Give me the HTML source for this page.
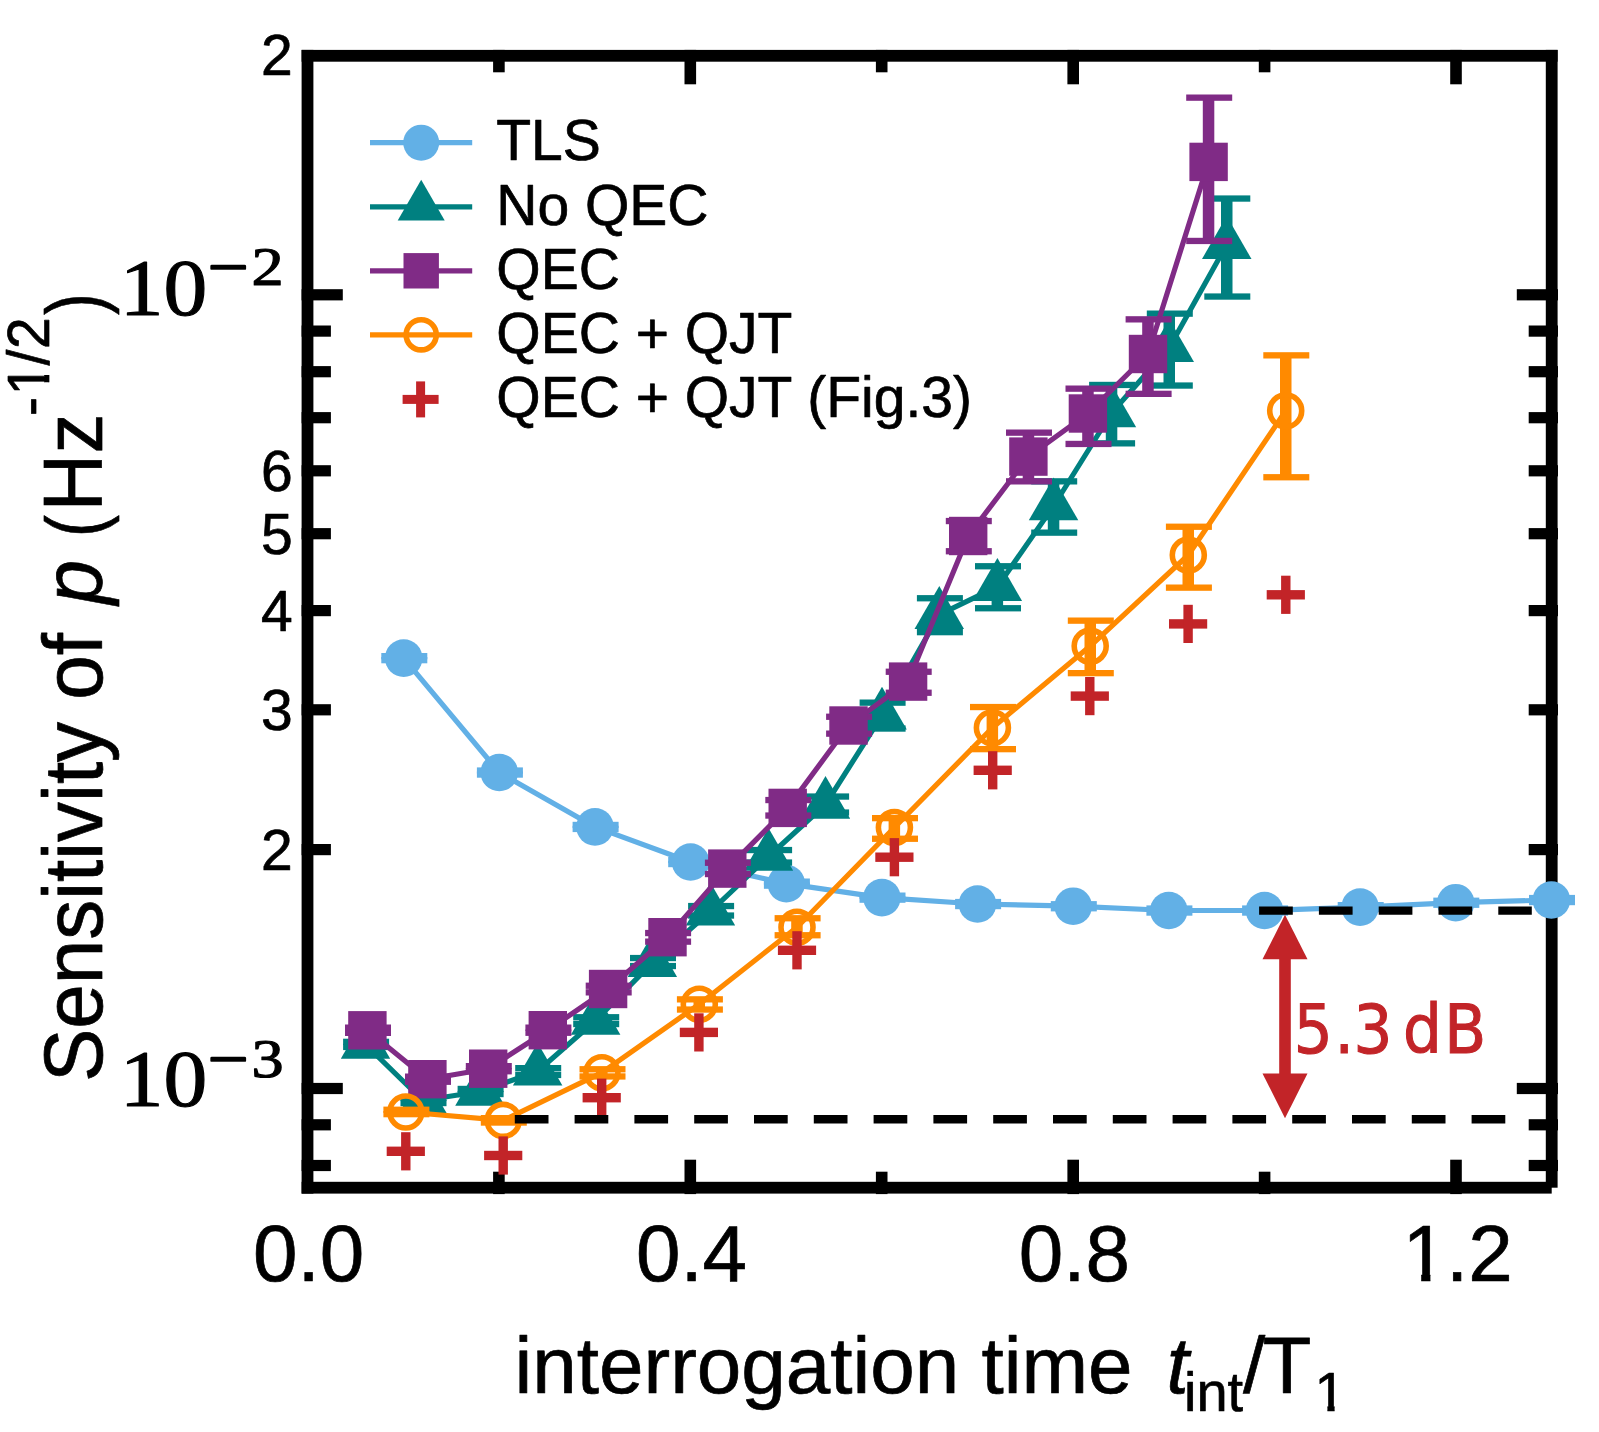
<!DOCTYPE html>
<html lang="en">
<head>
<meta charset="utf-8">
<title>Sensitivity of p versus interrogation time</title>
<style>
html,body{margin:0;padding:0;background:#ffffff;}
body{width:1599px;height:1432px;overflow:hidden;}
svg{display:block;}
</style>
</head>
<body>
<svg width="1599" height="1432" viewBox="0 0 1599 1432">
<rect x="0" y="0" width="1599" height="1432" fill="#ffffff"/>
<defs><clipPath id="clipa"><path d="M1395.8,1200 H1450.8 V1273.6 H1430.4 V1290 H1421.2 V1273.6 H1395.8 Z"/></clipPath><clipPath id="clipb"><path d="M1310,1360 H1350 V1404.7 H1334.6 V1420 H1327.4 V1404.7 H1310 Z"/></clipPath><clipPath id="clipc"><path d="M0,350 H42.8 V375 H55 V382.2 H42.8 V400 H0 Z"/></clipPath></defs>
<g id="axes" fill="#000000" stroke="none">
<rect x="301.6" y="49.9" width="1256.0" height="11.8"/>
<rect x="301.6" y="49.9" width="11.8" height="1143.7"/>
<rect x="301.6" y="1181.8" width="1250.1" height="11.8"/>
<rect x="1545.8" y="49.9" width="11.8" height="1137.8"/>
<rect x="301.6" y="289.2" width="41.2" height="11.2"/>
<rect x="1516.8" y="289.2" width="41.2" height="11.2"/>
<rect x="301.6" y="1082.9" width="41.2" height="11.2"/>
<rect x="1516.8" y="1082.9" width="41.2" height="11.2"/>
<rect x="301.6" y="844.0" width="29.3" height="11.2"/>
<rect x="1528.7" y="844.0" width="29.3" height="11.2"/>
<rect x="301.6" y="704.2" width="29.3" height="11.2"/>
<rect x="1528.7" y="704.2" width="29.3" height="11.2"/>
<rect x="301.6" y="605.0" width="29.3" height="11.2"/>
<rect x="1528.7" y="605.0" width="29.3" height="11.2"/>
<rect x="301.6" y="528.1" width="29.3" height="11.2"/>
<rect x="1528.7" y="528.1" width="29.3" height="11.2"/>
<rect x="301.6" y="465.2" width="29.3" height="11.2"/>
<rect x="1528.7" y="465.2" width="29.3" height="11.2"/>
<rect x="301.6" y="412.1" width="29.3" height="11.2"/>
<rect x="1528.7" y="412.1" width="29.3" height="11.2"/>
<rect x="301.6" y="366.1" width="29.3" height="11.2"/>
<rect x="1528.7" y="366.1" width="29.3" height="11.2"/>
<rect x="301.6" y="325.5" width="29.3" height="11.2"/>
<rect x="1528.7" y="325.5" width="29.3" height="11.2"/>
<rect x="301.6" y="1159.9" width="29.3" height="11.2"/>
<rect x="1528.7" y="1159.9" width="29.3" height="11.2"/>
<rect x="301.6" y="1119.2" width="29.3" height="11.2"/>
<rect x="1528.7" y="1119.2" width="29.3" height="11.2"/>
<rect x="684.5" y="1159.7" width="11.6" height="34.4"/>
<rect x="684.5" y="49.9" width="11.6" height="34.4"/>
<rect x="1067.4" y="1159.7" width="11.6" height="34.4"/>
<rect x="1067.4" y="49.9" width="11.6" height="34.4"/>
<rect x="1450.2" y="1159.7" width="11.6" height="34.4"/>
<rect x="1450.2" y="49.9" width="11.6" height="34.4"/>
<rect x="493.1" y="1171.7" width="11.6" height="22.4"/>
<rect x="493.1" y="49.9" width="11.6" height="22.4"/>
<rect x="875.9" y="1171.7" width="11.6" height="22.4"/>
<rect x="875.9" y="49.9" width="11.6" height="22.4"/>
<rect x="1258.8" y="1171.7" width="11.6" height="22.4"/>
<rect x="1258.8" y="49.9" width="11.6" height="22.4"/>
</g>
<g id="ylabels" font-family="Liberation Sans, Arial, Helvetica, sans-serif" stroke="#000" stroke-width="0.7" stroke-linejoin="round" font-size="57" fill="#000" text-anchor="end">
<text x="292.6" y="75.4">2</text>
<text x="292.6" y="491.2">6</text>
<text x="292.6" y="554.1">5</text>
<text x="292.6" y="631.0">4</text>
<text x="292.6" y="730.2">3</text>
<text x="292.6" y="870.0">2</text>
</g>
<g id="ypow" font-family="Liberation Serif, Times New Roman, serif" stroke="#000" stroke-width="1.1" stroke-linejoin="round" fill="#000">
<text transform="translate(119.8,314.9) scale(1.094,1)" font-size="80">10</text>
<text transform="translate(208.2,285.3) scale(1.3,1)" font-size="54" stroke-width="2.4">−</text>
<text transform="translate(251.6,285.3) scale(1.19,1)" font-size="54">2</text>
<text transform="translate(119.8,1106.1) scale(1.094,1)" font-size="80">10</text>
<text transform="translate(208.2,1076.5) scale(1.3,1)" font-size="54" stroke-width="2.4">−</text>
<text transform="translate(251.6,1076.5) scale(1.19,1)" font-size="54">3</text>
</g>
<g id="xlabels" font-family="Liberation Sans, Arial, Helvetica, sans-serif" stroke="#000" stroke-width="0.7" stroke-linejoin="round" font-size="80" fill="#000" text-anchor="middle">
<text x="308.7" y="1281.3">0.0</text>
<text x="691.5" y="1281.3">0.4</text>
<text x="1074.4" y="1281.3">0.8</text>
<text id="one_a" x="1402.4" y="1281.3" text-anchor="start" clip-path="url(#clipa)">1</text>
<text x="1446.1" y="1281.3" text-anchor="start">.2</text>
</g>
<g id="xtitle" font-family="Liberation Sans, Arial, Helvetica, sans-serif" stroke="#000" stroke-width="0.7" stroke-linejoin="round" fill="#000">
<text x="514.5" y="1392.5" font-size="80">interrogation time</text>
<text x="1166.5" y="1392.5" font-size="80" font-style="italic">t</text>
<text x="1184" y="1410.8" font-size="56">int</text>
<text x="1243" y="1392.5" font-size="80">/</text>
<text x="1262.5" y="1392.5" font-size="80">T</text>
<text id="one_b" x="1314.5" y="1411.2" font-size="56" clip-path="url(#clipb)">1</text>
</g>
<g id="ytitle" font-family="Liberation Sans, Arial, Helvetica, sans-serif" stroke="#000" stroke-width="0.7" stroke-linejoin="round" fill="#000">
<g transform="translate(102,0) rotate(-90) scale(1,1.04)"><text x="-1082" y="0" font-size="80">Sensitivity of</text>
<text x="-604.5" y="0" font-size="80" font-style="italic">p</text></g>
<g transform="translate(102,0) rotate(-90)"><text transform="translate(-533.2,0) scale(0.82,1) translate(533.2,0)" x="-538" y="0" font-size="80">(</text></g>
<g transform="translate(102,0) rotate(-90) scale(1,1.04)"><text x="-511.4" y="0" font-size="80">Hz</text>
<text x="-416" y="-51.2" font-size="57">-</text></g>
<g clip-path="url(#clipc)"><g transform="translate(102,0) rotate(-90) scale(1,1.04)"><text id="one_c" x="-395.6" y="-51.2" font-size="57">1</text></g></g>
<g transform="translate(102,0) rotate(-90) scale(1,1.04)"><text y="-51.2" font-size="57"><tspan x="-365.5">/</tspan><tspan x="-349">2</tspan></text></g>
<g transform="translate(102,0) rotate(-90)"><text transform="translate(-297.2,0) scale(0.82,1) translate(297.2,0)" x="-319" y="0" font-size="80">)</text></g>
</g>
<g id="tls">
<polyline points="403.7,658.1 499.3,772.5 595.0,826.9 690.6,862.0 786.3,883.6 881.9,897.6 977.5,904.0 1073.2,906.2 1168.8,910.5 1264.5,910.5 1360.1,907.1 1455.7,902.7 1551.4,900.0" fill="none" stroke="#62b0e6" stroke-width="5.2" stroke-linejoin="round"/>
<g fill="#62b0e6">
<rect x="397.9" y="656.1" width="11.5" height="4.0"/>
<rect x="381.3" y="653.0" width="46" height="6.3"/>
<rect x="381.3" y="657.0" width="46" height="6.3"/>
<rect x="493.6" y="770.5" width="11.5" height="4.0"/>
<rect x="476.9" y="767.4" width="46" height="6.3"/>
<rect x="476.9" y="771.4" width="46" height="6.3"/>
<rect x="589.2" y="824.9" width="11.5" height="4.0"/>
<rect x="572.6" y="821.8" width="46" height="6.3"/>
<rect x="572.6" y="825.8" width="46" height="6.3"/>
<rect x="684.9" y="860.0" width="11.5" height="4.0"/>
<rect x="668.2" y="856.9" width="46" height="6.3"/>
<rect x="668.2" y="860.9" width="46" height="6.3"/>
<rect x="780.5" y="881.6" width="11.5" height="4.0"/>
<rect x="763.9" y="878.5" width="46" height="6.3"/>
<rect x="763.9" y="882.5" width="46" height="6.3"/>
<rect x="876.1" y="895.6" width="11.5" height="4.0"/>
<rect x="859.5" y="892.5" width="46" height="6.3"/>
<rect x="859.5" y="896.5" width="46" height="6.3"/>
<rect x="971.8" y="902.0" width="11.5" height="4.0"/>
<rect x="955.1" y="898.9" width="46" height="6.3"/>
<rect x="955.1" y="902.9" width="46" height="6.3"/>
<rect x="1067.4" y="904.2" width="11.5" height="4.0"/>
<rect x="1050.8" y="901.1" width="46" height="6.3"/>
<rect x="1050.8" y="905.1" width="46" height="6.3"/>
<rect x="1163.1" y="908.5" width="11.5" height="4.0"/>
<rect x="1146.4" y="905.4" width="46" height="6.3"/>
<rect x="1146.4" y="909.4" width="46" height="6.3"/>
<rect x="1258.7" y="908.5" width="11.5" height="4.0"/>
<rect x="1242.1" y="905.4" width="46" height="6.3"/>
<rect x="1242.1" y="909.4" width="46" height="6.3"/>
<rect x="1354.3" y="905.1" width="11.5" height="4.0"/>
<rect x="1337.7" y="902.0" width="46" height="6.3"/>
<rect x="1337.7" y="906.0" width="46" height="6.3"/>
<rect x="1450.0" y="900.7" width="11.5" height="4.0"/>
<rect x="1433.3" y="897.6" width="46" height="6.3"/>
<rect x="1433.3" y="901.6" width="46" height="6.3"/>
<rect x="1545.6" y="898.0" width="11.5" height="4.0"/>
<rect x="1529.0" y="894.9" width="46" height="6.3"/>
<rect x="1529.0" y="898.9" width="46" height="6.3"/>
</g>
<g fill="#62b0e6"><circle cx="403.7" cy="658.1" r="18.8"/><circle cx="499.3" cy="772.5" r="18.8"/><circle cx="595.0" cy="826.9" r="18.8"/><circle cx="690.6" cy="862.0" r="18.8"/><circle cx="786.3" cy="883.6" r="18.8"/><circle cx="881.9" cy="897.6" r="18.8"/><circle cx="977.5" cy="904.0" r="18.8"/><circle cx="1073.2" cy="906.2" r="18.8"/><circle cx="1168.8" cy="910.5" r="18.8"/><circle cx="1264.5" cy="910.5" r="18.8"/><circle cx="1360.1" cy="907.1" r="18.8"/><circle cx="1455.7" cy="902.7" r="18.8"/><circle cx="1551.4" cy="900.0" r="18.8"/></g>
</g>
<g id="noqec">
<polyline points="365.5,1044.4 422.9,1100.5 480.0,1091.5 537.6,1071.3 595.6,1020.5 652.4,962.6 710.5,911.3 768.5,856.5 825.5,804.5 882.0,715.3 939.3,614.7 997.4,586.7 1053.6,506.0 1111.5,413.0 1169.2,347.7 1226.7,244.7" fill="none" stroke="#008080" stroke-width="5.2" stroke-linejoin="round"/>
<g fill="#008080">
<rect x="359.8" y="1041.8" width="11.5" height="5.2"/>
<rect x="343.1" y="1038.7" width="46" height="6.3"/>
<rect x="343.1" y="1043.8" width="46" height="6.3"/>
<rect x="417.1" y="1097.9" width="11.5" height="5.2"/>
<rect x="400.5" y="1094.8" width="46" height="6.3"/>
<rect x="400.5" y="1099.9" width="46" height="6.3"/>
<rect x="474.2" y="1088.9" width="11.5" height="5.2"/>
<rect x="457.6" y="1085.8" width="46" height="6.3"/>
<rect x="457.6" y="1090.9" width="46" height="6.3"/>
<rect x="531.9" y="1068.2" width="11.5" height="6.8"/>
<rect x="515.2" y="1065.0" width="46" height="6.3"/>
<rect x="515.2" y="1071.8" width="46" height="6.3"/>
<rect x="589.9" y="1017.2" width="11.5" height="6.8"/>
<rect x="573.2" y="1014.1" width="46" height="6.3"/>
<rect x="573.2" y="1020.9" width="46" height="6.3"/>
<rect x="646.6" y="958.0" width="11.5" height="8.0"/>
<rect x="630.0" y="954.9" width="46" height="6.3"/>
<rect x="630.0" y="962.9" width="46" height="6.3"/>
<rect x="704.8" y="906.0" width="11.5" height="9.5"/>
<rect x="688.1" y="902.9" width="46" height="6.3"/>
<rect x="688.1" y="912.4" width="46" height="6.3"/>
<rect x="762.8" y="850.0" width="11.5" height="12.5"/>
<rect x="746.1" y="846.9" width="46" height="6.3"/>
<rect x="746.1" y="859.4" width="46" height="6.3"/>
<rect x="819.8" y="796.5" width="11.5" height="16.0"/>
<rect x="803.1" y="793.4" width="46" height="6.3"/>
<rect x="803.1" y="809.4" width="46" height="6.3"/>
<rect x="876.2" y="702.6" width="11.5" height="25.9"/>
<rect x="859.6" y="699.5" width="46" height="6.3"/>
<rect x="859.6" y="725.4" width="46" height="6.3"/>
<rect x="933.5" y="598.3" width="11.5" height="33.8"/>
<rect x="916.9" y="595.1" width="46" height="6.3"/>
<rect x="916.9" y="629.0" width="46" height="6.3"/>
<rect x="991.6" y="566.3" width="11.5" height="41.9"/>
<rect x="975.0" y="563.1" width="46" height="6.3"/>
<rect x="975.0" y="605.1" width="46" height="6.3"/>
<rect x="1047.8" y="481.4" width="11.5" height="51.2"/>
<rect x="1031.2" y="478.2" width="46" height="6.3"/>
<rect x="1031.2" y="529.5" width="46" height="6.3"/>
<rect x="1105.8" y="384.9" width="11.5" height="58.5"/>
<rect x="1089.1" y="381.8" width="46" height="6.3"/>
<rect x="1089.1" y="440.2" width="46" height="6.3"/>
<rect x="1163.5" y="313.6" width="11.5" height="71.9"/>
<rect x="1146.8" y="310.5" width="46" height="6.3"/>
<rect x="1146.8" y="382.4" width="46" height="6.3"/>
<rect x="1221.0" y="198.6" width="11.5" height="97.9"/>
<rect x="1204.3" y="195.4" width="46" height="6.3"/>
<rect x="1204.3" y="293.4" width="46" height="6.3"/>
</g>
<g fill="#008080"><polygon points="365.5,1015.8 390.2,1058.7 340.8,1058.7"/><polygon points="422.9,1071.9 447.6,1114.8 398.1,1114.8"/><polygon points="480.0,1062.9 504.8,1105.8 455.2,1105.8"/><polygon points="537.6,1042.7 562.4,1085.6 512.9,1085.6"/><polygon points="595.6,991.9 620.4,1034.8 570.9,1034.8"/><polygon points="652.4,934.0 677.1,976.9 627.6,976.9"/><polygon points="710.5,882.7 735.2,925.6 685.8,925.6"/><polygon points="768.5,827.9 793.2,870.8 743.8,870.8"/><polygon points="825.5,775.9 850.2,818.8 800.8,818.8"/><polygon points="882.0,686.7 906.8,729.6 857.2,729.6"/><polygon points="939.3,586.1 964.0,629.0 914.5,629.0"/><polygon points="997.4,558.1 1022.1,601.0 972.6,601.0"/><polygon points="1053.6,477.4 1078.3,520.3 1028.8,520.3"/><polygon points="1111.5,384.4 1136.2,427.3 1086.8,427.3"/><polygon points="1169.2,319.1 1194.0,362.0 1144.5,362.0"/><polygon points="1226.7,216.1 1251.5,259.0 1202.0,259.0"/></g>
</g>
<g id="qec">
<polyline points="367.4,1030.3 427.4,1079.2 488.2,1068.7 547.8,1030.2 608.1,989.0 667.5,937.2 727.3,868.6 787.7,807.9 848.5,725.5 908.1,681.6 968.2,536.0 1028.4,456.6 1087.9,413.5 1148.0,354.0 1208.6,161.9" fill="none" stroke="#802b86" stroke-width="5.2" stroke-linejoin="round"/>
<g fill="#802b86">
<rect x="361.6" y="1027.7" width="11.5" height="5.2"/>
<rect x="345.0" y="1024.5" width="46" height="6.3"/>
<rect x="345.0" y="1029.7" width="46" height="6.3"/>
<rect x="421.6" y="1076.6" width="11.5" height="5.2"/>
<rect x="405.0" y="1073.5" width="46" height="6.3"/>
<rect x="405.0" y="1078.6" width="46" height="6.3"/>
<rect x="482.4" y="1066.1" width="11.5" height="5.2"/>
<rect x="465.8" y="1063.0" width="46" height="6.3"/>
<rect x="465.8" y="1068.1" width="46" height="6.3"/>
<rect x="542.0" y="1027.6" width="11.5" height="5.2"/>
<rect x="525.4" y="1024.5" width="46" height="6.3"/>
<rect x="525.4" y="1029.6" width="46" height="6.3"/>
<rect x="602.4" y="985.8" width="11.5" height="6.6"/>
<rect x="585.7" y="982.6" width="46" height="6.3"/>
<rect x="585.7" y="989.2" width="46" height="6.3"/>
<rect x="661.8" y="933.0" width="11.5" height="8.6"/>
<rect x="645.1" y="929.9" width="46" height="6.3"/>
<rect x="645.1" y="938.5" width="46" height="6.3"/>
<rect x="721.5" y="862.8" width="11.5" height="11.2"/>
<rect x="704.9" y="859.6" width="46" height="6.3"/>
<rect x="704.9" y="870.9" width="46" height="6.3"/>
<rect x="782.0" y="800.0" width="11.5" height="15.5"/>
<rect x="765.3" y="796.9" width="46" height="6.3"/>
<rect x="765.3" y="812.4" width="46" height="6.3"/>
<rect x="842.8" y="716.8" width="11.5" height="16.8"/>
<rect x="826.1" y="713.6" width="46" height="6.3"/>
<rect x="826.1" y="730.5" width="46" height="6.3"/>
<rect x="902.4" y="671.8" width="11.5" height="21.0"/>
<rect x="885.7" y="668.6" width="46" height="6.3"/>
<rect x="885.7" y="689.6" width="46" height="6.3"/>
<rect x="962.5" y="521.0" width="11.5" height="30.3"/>
<rect x="945.8" y="517.9" width="46" height="6.3"/>
<rect x="945.8" y="548.1" width="46" height="6.3"/>
<rect x="1022.7" y="432.6" width="11.5" height="48.8"/>
<rect x="1006.0" y="429.5" width="46" height="6.3"/>
<rect x="1006.0" y="478.2" width="46" height="6.3"/>
<rect x="1082.2" y="388.6" width="11.5" height="55.3"/>
<rect x="1065.5" y="385.5" width="46" height="6.3"/>
<rect x="1065.5" y="440.8" width="46" height="6.3"/>
<rect x="1142.2" y="319.3" width="11.5" height="74.5"/>
<rect x="1125.6" y="316.2" width="46" height="6.3"/>
<rect x="1125.6" y="390.7" width="46" height="6.3"/>
<rect x="1202.8" y="97.7" width="11.5" height="143.2"/>
<rect x="1186.2" y="94.5" width="46" height="6.3"/>
<rect x="1186.2" y="237.8" width="46" height="6.3"/>
</g>
<g fill="#802b86"><rect x="348.2" y="1011.1" width="38.4" height="38.4"/><rect x="408.2" y="1060.0" width="38.4" height="38.4"/><rect x="469.0" y="1049.5" width="38.4" height="38.4"/><rect x="528.6" y="1011.0" width="38.4" height="38.4"/><rect x="588.9" y="969.8" width="38.4" height="38.4"/><rect x="648.3" y="918.0" width="38.4" height="38.4"/><rect x="708.1" y="849.4" width="38.4" height="38.4"/><rect x="768.5" y="788.7" width="38.4" height="38.4"/><rect x="829.3" y="706.3" width="38.4" height="38.4"/><rect x="888.9" y="662.4" width="38.4" height="38.4"/><rect x="949.0" y="516.8" width="38.4" height="38.4"/><rect x="1009.2" y="437.4" width="38.4" height="38.4"/><rect x="1068.7" y="394.3" width="38.4" height="38.4"/><rect x="1128.8" y="334.8" width="38.4" height="38.4"/><rect x="1189.4" y="142.7" width="38.4" height="38.4"/></g>
</g>
<g id="qjt">
<polyline points="405.8,1112.0 503.2,1120.4 601.9,1072.7 699.3,1004.2 797.0,927.2 894.4,827.5 992.4,727.8 1090.2,646.1 1188.3,555.0 1285.7,410.8" fill="none" stroke="#ff8a00" stroke-width="5.2" stroke-linejoin="round"/>
<g fill="#ff8a00">
<rect x="400.1" y="1109.8" width="11.5" height="4.4"/>
<rect x="383.4" y="1106.6" width="46" height="6.3"/>
<rect x="383.4" y="1111.0" width="46" height="6.3"/>
<rect x="497.4" y="1118.2" width="11.5" height="4.4"/>
<rect x="480.8" y="1115.0" width="46" height="6.3"/>
<rect x="480.8" y="1119.4" width="46" height="6.3"/>
<rect x="596.1" y="1069.3" width="11.5" height="7.2"/>
<rect x="579.5" y="1066.1" width="46" height="6.3"/>
<rect x="579.5" y="1073.3" width="46" height="6.3"/>
<rect x="693.5" y="999.4" width="11.5" height="10.1"/>
<rect x="676.9" y="996.2" width="46" height="6.3"/>
<rect x="676.9" y="1006.4" width="46" height="6.3"/>
<rect x="791.2" y="918.2" width="11.5" height="17.1"/>
<rect x="774.6" y="915.1" width="46" height="6.3"/>
<rect x="774.6" y="932.1" width="46" height="6.3"/>
<rect x="888.6" y="818.1" width="11.5" height="20.7"/>
<rect x="872.0" y="815.0" width="46" height="6.3"/>
<rect x="872.0" y="835.6" width="46" height="6.3"/>
<rect x="986.6" y="707.0" width="11.5" height="42.1"/>
<rect x="970.0" y="703.9" width="46" height="6.3"/>
<rect x="970.0" y="746.0" width="46" height="6.3"/>
<rect x="1084.5" y="620.6" width="11.5" height="52.5"/>
<rect x="1067.8" y="617.5" width="46" height="6.3"/>
<rect x="1067.8" y="670.0" width="46" height="6.3"/>
<rect x="1182.5" y="526.7" width="11.5" height="60.9"/>
<rect x="1165.9" y="523.6" width="46" height="6.3"/>
<rect x="1165.9" y="584.5" width="46" height="6.3"/>
<rect x="1280.0" y="355.4" width="11.5" height="121.8"/>
<rect x="1263.3" y="352.2" width="46" height="6.3"/>
<rect x="1263.3" y="474.1" width="46" height="6.3"/>
</g>
<g fill="none" stroke="#ff8a00" stroke-width="5.6"><circle cx="405.8" cy="1112.0" r="16"/><circle cx="503.2" cy="1120.4" r="16"/><circle cx="601.9" cy="1072.7" r="16"/><circle cx="699.3" cy="1004.2" r="16"/><circle cx="797.0" cy="927.2" r="16"/><circle cx="894.4" cy="827.5" r="16"/><circle cx="992.4" cy="727.8" r="16"/><circle cx="1090.2" cy="646.1" r="16"/><circle cx="1188.3" cy="555.0" r="16"/><circle cx="1285.7" cy="410.8" r="16"/></g>
</g>
<g id="fig3" fill="#c22428"><rect x="386.7" y="1146.6" width="38.2" height="9.4"/><rect x="401.1" y="1132.2" width="9.4" height="38.2"/><rect x="484.1" y="1150.8" width="38.2" height="9.4"/><rect x="498.5" y="1136.4" width="9.4" height="38.2"/><rect x="582.6" y="1093.0" width="38.2" height="9.4"/><rect x="597.0" y="1078.6" width="9.4" height="38.2"/><rect x="679.8" y="1027.7" width="38.2" height="9.4"/><rect x="694.2" y="1013.3" width="9.4" height="38.2"/><rect x="777.9" y="945.6" width="38.2" height="9.4"/><rect x="792.3" y="931.2" width="9.4" height="38.2"/><rect x="875.3" y="852.5" width="38.2" height="9.4"/><rect x="889.7" y="838.1" width="9.4" height="38.2"/><rect x="973.6" y="765.6" width="38.2" height="9.4"/><rect x="988.0" y="751.2" width="9.4" height="38.2"/><rect x="1070.7" y="691.4" width="38.2" height="9.4"/><rect x="1085.1" y="677.0" width="9.4" height="38.2"/><rect x="1169.0" y="619.2" width="38.2" height="9.4"/><rect x="1183.4" y="604.8" width="9.4" height="38.2"/><rect x="1266.7" y="590.1" width="38.2" height="9.4"/><rect x="1281.1" y="575.7" width="9.4" height="38.2"/></g>
<g id="dashes" stroke="#000" stroke-width="8.4" fill="none" stroke-dasharray="33.7 26.1">
<line x1="514.8" y1="1119.3" x2="1531" y2="1119.3"/>
<line x1="1259.1" y1="910.6" x2="1531.8" y2="910.6"/>
</g>
<g id="arrow" fill="#c22428">
<rect x="1279.2" y="950" width="11.6" height="130"/>
<polygon points="1285.0,914.8 1307.5,959.2 1262.5,959.2"/>
<polygon points="1285.0,1118.2 1307.5,1073.4 1262.5,1073.4"/>
</g>
<text id="db" x="1294" y="1053" font-family="DejaVu Sans Condensed, DejaVu Sans, Liberation Sans, sans-serif" font-size="68" fill="#c22428" stroke="#c22428" stroke-width="1.0"><tspan x="1293.7">5</tspan><tspan x="1334.4">.</tspan><tspan x="1353.6">3</tspan> <tspan x="1403">d</tspan><tspan x="1444.3">B</tspan></text>
<g id="legend" font-family="Liberation Sans, Arial, Helvetica, sans-serif" stroke="#000" stroke-width="0.7" stroke-linejoin="round" font-size="57" fill="#000">
<text x="496.3" y="160.4">TLS</text>
<text x="496.3" y="224.5">No QEC</text>
<text x="496.3" y="288.5">QEC</text>
<text x="496.3" y="352.5">QEC + QJT</text>
<text x="496.3" y="416.5">QEC + QJT (Fig.3)</text>
</g>
<g id="legendmarks">
<line x1="370" y1="142.7" x2="472.2" y2="142.7" stroke="#62b0e6" stroke-width="5.2"/>
<line x1="370" y1="206.8" x2="472.2" y2="206.8" stroke="#008080" stroke-width="5.2"/>
<line x1="370" y1="270.8" x2="472.2" y2="270.8" stroke="#802b86" stroke-width="5.2"/>
<line x1="370" y1="334.8" x2="472.2" y2="334.8" stroke="#ff8a00" stroke-width="5.2"/>
<circle cx="421.2" cy="142.7" r="18" fill="#62b0e6"/>
<polygon points="421.2,179.7 444.7,220.4 397.7,220.4" fill="#008080"/>
<rect x="403.5" y="253.1" width="35.4" height="35.4" fill="#802b86"/>
<circle cx="421.2" cy="334.8" r="15.1" fill="none" stroke="#ff8a00" stroke-width="5.6"/>
<g fill="#c22428"><rect x="402.6" y="394.9" width="36" height="9"/><rect x="416.1" y="381.4" width="9" height="36"/></g>
</g>
</svg>
</body>
</html>
